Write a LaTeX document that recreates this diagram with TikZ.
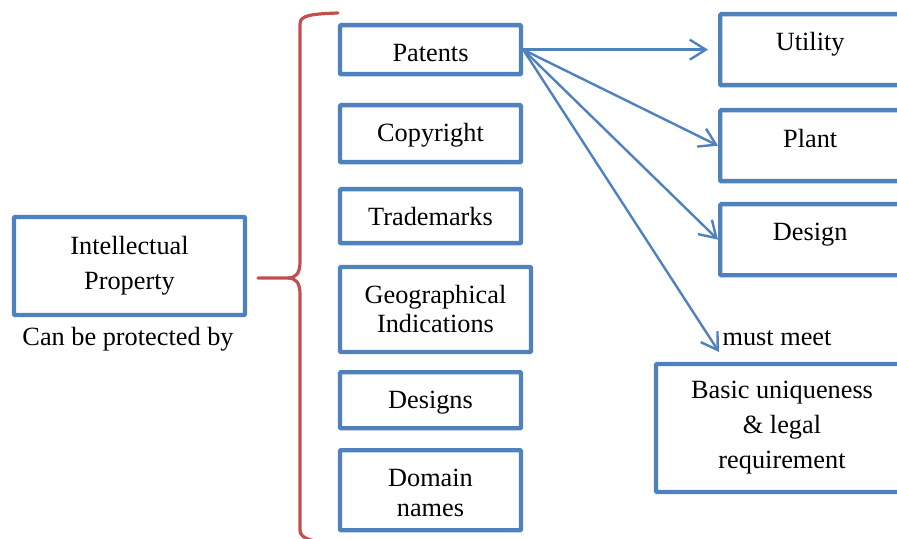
\documentclass[tikz,border=0pt]{standalone}
\usepackage{fontspec}
\setmainfont{Liberation Serif}
\usetikzlibrary{arrows.meta}
\definecolor{boxblue}{HTML}{4F81BD}
\definecolor{bracered}{HTML}{C0504D}
\tikzset{
  box/.style={draw=boxblue, line width=2.2pt, rounded corners=0.5pt, align=center, inner sep=0pt,
    font=\fontsize{13.15pt}{17.3pt}\selectfont},
  onebox/.style={box, text height=18pt, text depth=#1, minimum width=90.5pt},
  topbox/.style={box, text height=18pt, text depth=17.5pt, minimum width=90pt},
  plain/.style={inner sep=0pt, font=\fontsize{13.15pt}{17pt}\selectfont},
  conn/.style={draw=boxblue, line width=1.2pt, -{Straight Barb[length=8pt,width=10pt,line width=1.2pt]}},
  brace/.style={draw=bracered, line width=1.6pt, line cap=round, line join=round}
}
\begin{document}
\begin{tikzpicture}[x=0.5pt, y=-0.5pt]
\useasboundingbox (0,0) rectangle (897,539);
\clip (0,0) rectangle (897,539);
% left
\node[box, minimum width=115.5pt, minimum height=49pt] (ip) at (129.5,266) {Intellectual\\Property};
\node[plain, anchor=base] (cbp) at (128,345) {Can be protected by};
% brace
\coordinate (btip) at (258,278);
\draw[brace] (338,13) .. controls (312,14) and (300,15) .. (300,24)
  -- (300,262) .. controls (300,273) and (296,278) .. (288,278) -- (btip);
\draw[brace] (288,278) .. controls (296,278) and (300,283) .. (300,294)
  -- (300,530) .. controls (300,539) and (312,542) .. (338,543);
% middle column
\node[onebox=6.5pt, anchor=north] (pat) at (430.5,23) {Patents};
\node[onebox=10.5pt, anchor=north] (copy) at (430.5,103) {Copyright};
\node[onebox=9pt, anchor=north] (tm) at (430.5,187) {Trademarks};
\node[box, minimum width=95.5pt, minimum height=42.5pt, font=\fontsize{13.15pt}{14.5pt}\selectfont] (gi) at (435.5,309.5) {Geographical\\Indications};
\node[onebox=10pt, anchor=north] (des) at (430.5,370) {Designs};
\node[box, minimum width=90.5pt, text height=33pt, text depth=7pt, anchor=north, font=\fontsize{13.15pt}{15pt}\selectfont] (dom) at (430.5,448) {Domain\\names};
% right column
\node[topbox, anchor=north west] (util) at (718,12) {Utility};
\node[topbox, anchor=north west, text height=18.5pt, text depth=17pt] (plant) at (718,108) {Plant};
\node[topbox, anchor=north west] (design) at (718,202) {Design};
\node[box, minimum width=126pt, minimum height=64pt, font=\fontsize{13.15pt}{17.5pt}\selectfont] (basic) at (782,428) {Basic uniqueness\\\& legal\\requirement};
\node[plain, anchor=base] (mm) at (777,345) {must meet};
\coordinate (mmtip) at (719,352);
% arrows
\draw[conn, shorten >=5pt] (pat.east) -- (pat.east -| util.west);
\draw[conn] (pat.east) -- (plant.west);
\draw[conn] (pat.east) -- (design.west);
\draw[conn] (pat.east) -- (mmtip);
\end{tikzpicture}
\end{document}
